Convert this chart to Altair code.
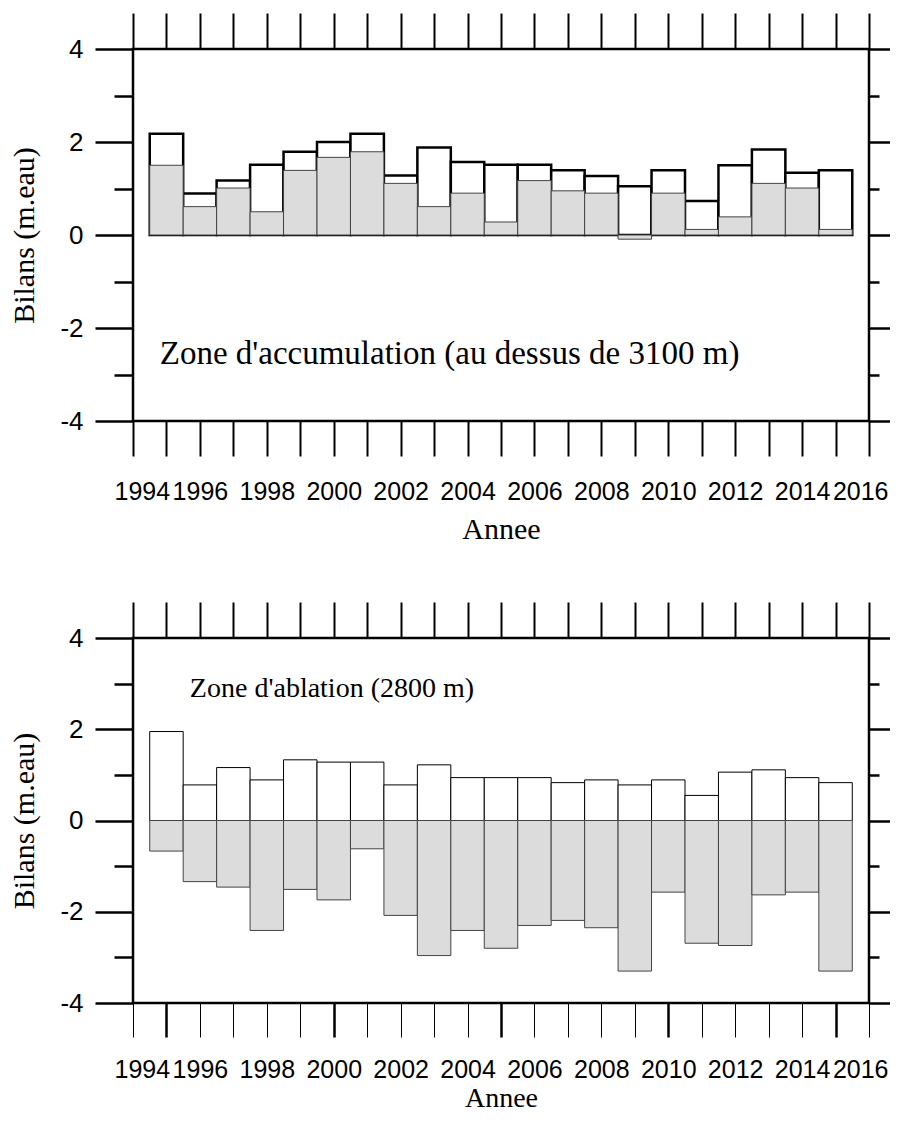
import altair as alt
import pandas as pd

# ---- data ----
years = list(range(1995, 2016))

# Zone d'accumulation (au dessus de 3100 m)
acc_winter = [2.18, 0.89, 1.17, 1.51, 1.79, 2.00, 2.18, 1.28, 1.88, 1.57, 1.51,
              1.51, 1.39, 1.27, 1.05, 1.39, 0.73, 1.50, 1.84, 1.34, 1.39]
acc_annual = [1.50, 0.61, 1.01, 0.50, 1.39, 1.67, 1.79, 1.11, 0.61, 0.90, 0.28,
              1.17, 0.95, 0.90, -0.09, 0.90, 0.12, 0.39, 1.11, 1.01, 0.12]

# Zone d'ablation (2800 m)
abl_winter = [1.95, 0.78, 1.16, 0.89, 1.33, 1.28, 1.28, 0.78, 1.22, 0.94, 0.94,
              0.94, 0.83, 0.89, 0.78, 0.89, 0.55, 1.06, 1.11, 0.94, 0.83]
abl_annual = [-0.67, -1.34, -1.46, -2.41, -1.51, -1.74, -0.62, -2.08, -2.96, -2.41, -2.80,
              -2.30, -2.19, -2.35, -3.30, -1.57, -2.69, -2.74, -1.63, -1.57, -3.30]

x_ticks = list(range(1994, 2017))
y_major = [-4, -2, 0, 2, 4]
y_minor = [-3, -1, 1, 3]

acc_label = "Zone d'accumulation (au dessus de 3100 m)"
abl_label = "Zone d'ablation (2800 m)"

x_title = "Annee"
y_title = "Bilans (m.eau)"

# ---- styling ----
W = 736
STIPPLE = "#dcdcdc"
SANS = "Liberation Sans"
SERIF = "Liberation Serif"

xs = alt.Scale(domain=[1994, 2016], nice=False, zero=False)
ys = alt.Scale(domain=[-4, 4], nice=False, zero=False)


def panel(winter, annual, label, lx, ly, label_size, outline_w, bottom_tick_w,
          height, bottom_tick, label_pad, title_pad, title_size):
    df = pd.DataFrame({"year": years, "winter": winter, "annual": annual})
    base = alt.Chart(df).transform_calculate(
        x0="datum.year - 0.5", x1="datum.year + 0.5", zero="0"
    )

    x_bottom = alt.Axis(
        orient="bottom", values=x_ticks, tickSize=bottom_tick, tickWidth=bottom_tick_w,
        tickColor="black", domain=False, grid=False,
        labelExpr="datum.value % 2 === 0 ? toString(datum.value) : ''",
        labelFont=SANS, labelFontSize=25, labelColor="black", labelPadding=label_pad,
        labelOverlap=False, labelFlush=True, labelFlushOffset=19,
        title=x_title, titleFont=SERIF, titleFontSize=title_size, titleFontWeight="normal",
        titleColor="black", titleBaseline="alphabetic", titlePadding=title_pad,
    )
    y_left = alt.Axis(
        orient="left", values=y_major, tickSize=38, tickWidth=2.5, tickColor="black",
        domain=False, grid=False, labelFont=SANS, labelFontSize=26, labelColor="black",
        labelExpr="toString(datum.value)",
        labelPadding=12, labelOverlap=False,
        title=y_title, titleFont=SERIF, titleFontSize=30, titleFontWeight="normal",
        titleColor="black", titlePadding=20,
    )

    winter_bars = base.mark_rect(fill="white", stroke="black", strokeWidth=outline_w).encode(
        x=alt.X("x0:Q", scale=xs, axis=x_bottom),
        x2="x1:Q",
        y=alt.Y("winter:Q", scale=ys, axis=y_left),
        y2="zero:Q",
    )
    annual_bars = base.mark_rect(fill=STIPPLE, stroke="#444444", strokeWidth=1).encode(
        x=alt.X("x0:Q", scale=xs, axis=None),
        x2="x1:Q",
        y=alt.Y("annual:Q", scale=ys, axis=None),
        y2="zero:Q",
    )

    def axis_layer(xaxis, yaxis):
        return base.mark_point(opacity=0).encode(
            x=alt.X("year:Q", scale=xs, axis=xaxis),
            y=alt.Y("winter:Q", scale=ys, axis=yaxis),
        )

    top_right = axis_layer(
        alt.Axis(orient="top", values=x_ticks, tickSize=36, tickWidth=2, tickColor="black",
                 domain=False, grid=False, labels=False, title=None),
        alt.Axis(orient="right", values=y_major, tickSize=31, tickWidth=2.5, tickColor="black",
                 domain=False, grid=False, labels=False, title=None),
    )
    left_minor = axis_layer(
        None,
        alt.Axis(orient="left", values=y_minor, tickSize=19, tickWidth=2.5, tickColor="black",
                 domain=False, grid=False, labels=False, title=None),
    )
    right_minor = axis_layer(
        None,
        alt.Axis(orient="right", values=y_minor, tickSize=10, tickWidth=2.5, tickColor="black",
                 domain=False, grid=False, labels=False, title=None),
    )

    tdf = pd.DataFrame({"lx": [lx], "ly": [ly], "t": [label]})
    text = alt.Chart(tdf).mark_text(
        align="left", baseline="middle", font=SERIF, fontSize=label_size, color="black"
    ).encode(
        x=alt.X("lx:Q", scale=xs, axis=None),
        y=alt.Y("ly:Q", scale=ys, axis=None),
        text="t:N",
    )

    return alt.layer(winter_bars, annual_bars, top_right, left_minor, right_minor, text).resolve_axis(
        x="independent", y="independent"
    ).properties(width=W, height=height)


top = panel(acc_winter, acc_annual, acc_label, 1994.8, -2.56, 33, 2.5, 2, 372, 35, 23, 34, 30)
bottom = panel(
    abl_winter, abl_annual, abl_label, 1995.7, 2.89, 28, 1,
    alt.condition("datum.value % 5 === 0", alt.value(2.5), alt.value(1)),
    365, 34, 20, 24, 28,
)

chart = alt.vconcat(top, bottom, spacing=53).properties(
    padding={"left": 0, "top": 2, "right": -13, "bottom": 0},
    background="white",
).configure_view(stroke="black", strokeWidth=2.5)

chart.save("out.html", embed_options={"renderer": "svg", "actions": False})
